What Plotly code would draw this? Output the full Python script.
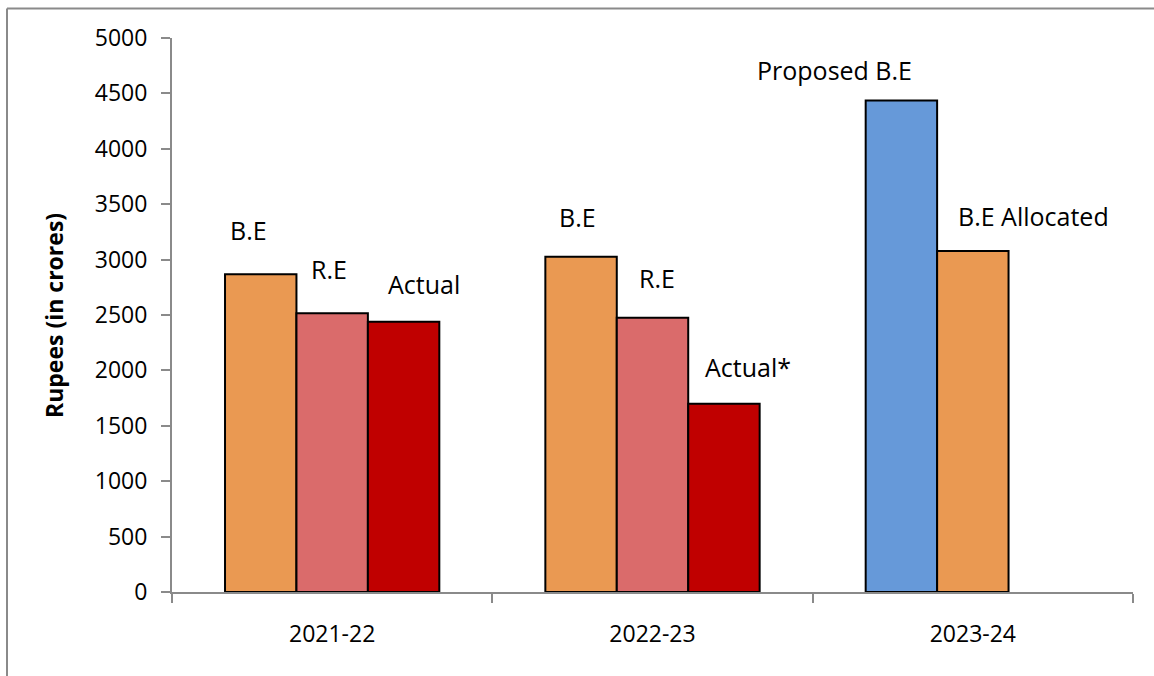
import plotly.graph_objects as go

# Budget figures in Rupees crores
years = ["2021-22", "2022-23", "2023-24"]
first_vals = [2868, 3026, 4435]      # B.E / B.E / Proposed B.E
second_vals = [2515, 2475, 3078]     # R.E / R.E / B.E Allocated
third_vals = [2440, 1700, None]      # Actual / Actual* / -

first_labels = ["B.E", "B.E", "Proposed B.E"]
second_labels = ["R.E", "R.E", "B.E Allocated"]
third_labels = ["Actual", "Actual*", None]

ORANGE = "#EA9952"
PINK = "#DA6B6B"
RED = "#C00000"
BLUE = "#6699D9"

first_colors = [ORANGE, ORANGE, BLUE]
second_colors = [PINK, PINK, ORANGE]
third_colors = [RED, RED, RED]

# label offsets (px) from the top centre of each bar
first_shift = [(-12, 44), (-4, 40), (-67, 31)]
second_shift = [(-3, 44), (4, 40), (61, 35)]
third_shift = [(20, 38), (24, 37), (0, 0)]

FONT = "Open Sans"
BARGAP = 0.331
slot_w = (1 - BARGAP) / 3

fig = go.Figure()
for vals, cols in [(first_vals, first_colors), (second_vals, second_colors), (third_vals, third_colors)]:
    fig.add_trace(go.Bar(
        x=years, y=vals,
        marker=dict(color=cols, line=dict(color="#000000", width=2)),
        showlegend=False, hoverinfo="x+y",
    ))

annotations = []
for slot, (vals, labels, shifts) in enumerate([
        (first_vals, first_labels, first_shift),
        (second_vals, second_labels, second_shift),
        (third_vals, third_labels, third_shift)]):
    for i, (v, lab, sh) in enumerate(zip(vals, labels, shifts)):
        if v is None or lab is None:
            continue
        annotations.append(dict(
            x=i + (slot - 1) * slot_w, y=v, xref="x", yref="y",
            text=lab, showarrow=False,
            xshift=sh[0], yshift=sh[1],
            xanchor="center", yanchor="middle",
            font=dict(family=FONT, size=25, color="#000000"),
        ))

annotations.append(dict(
    x=-0.1228, y=0.5, xref="paper", yref="paper",
    text="<b>Rupees (in crores)</b>", textangle=-90, showarrow=False,
    xanchor="center", yanchor="middle",
    font=dict(family=FONT, size=23, color="#000000"),
))

# chart-area frame
border = "#8A8A8A"
shapes = [
    dict(type="line", xref="paper", yref="paper", x0=-0.1717, x1=1.2, y0=1.0532, y1=1.0532,
         line=dict(color=border, width=2)),
    dict(type="line", xref="paper", yref="paper", x0=-0.1717, x1=-0.1717, y0=1.0532, y1=-0.3,
         line=dict(color=border, width=2)),
]

fig.update_layout(
    width=1154, height=676,
    margin=dict(l=172, r=21, t=38, b=84),
    paper_bgcolor="#FFFFFF", plot_bgcolor="#FFFFFF",
    barmode="group", bargap=BARGAP, bargroupgap=0,
    annotations=annotations, shapes=shapes,
    font=dict(family=FONT, color="#000000"),
)
fig.update_xaxes(
    type="category", showgrid=False, showline=True, linecolor=border, linewidth=2,
    ticks="outside", tickson="boundaries", ticklen=9, tickcolor=border, tickwidth=2,
    tickfont=dict(family=FONT, size=23, color="#000000"),
    ticklabelstandoff=20,
)
fig.update_yaxes(
    range=[0, 5000], dtick=500, tick0=0, showgrid=False, zeroline=False,
    showline=True, linecolor=border, linewidth=2,
    ticks="outside", ticklen=9, tickcolor=border, tickwidth=2,
    tickfont=dict(family=FONT, size=23, color="#000000"),
    ticklabelstandoff=9,
)

fig.write_html("out.html")
